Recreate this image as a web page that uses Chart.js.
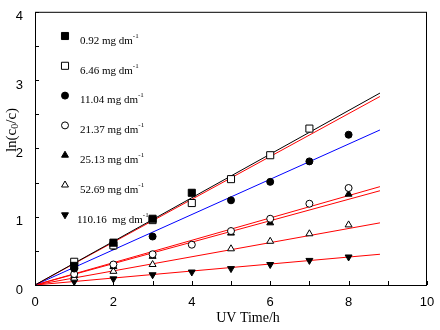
<!DOCTYPE html>
<html>
<head>
<meta charset="utf-8">
<script src="https://cdn.jsdelivr.net/npm/chart.js@4/dist/chart.umd.min.js"></script>
<style>
  html, body { margin: 0; padding: 0; background: #fff; }
</style>
</head>
<body>
<canvas id="myChart" width="440" height="330"></canvas>
<script>
// initial concentrations (mg dm-1) and ln(c0/c) vs irradiation time (h)
const concLabels = ['0.92', '6.46', '11.04', '21.37', '25.13', '52.69', '110.16'];

const timesA = [1, 2, 3, 4];
const valsA = [0.28, 0.62, 0.97, 1.35];
const timesB = [1, 2, 3, 4, 5, 6, 7];
const valsB = [0.34, 0.58, 0.95, 1.20, 1.55, 1.90, 2.29];
const timesC = [1, 2, 3, 5, 6, 7, 8];
const valsC = [0.24, 0.57, 0.71, 1.24, 1.51, 1.81, 2.20];
const timesD = [1, 2, 3, 4, 5, 6, 7, 8];
const valsD = [0.16, 0.30, 0.45, 0.59, 0.79, 0.97, 1.19, 1.42];
const timesE = [1, 2, 3, 5, 6, 8];
const valsE = [0.14, 0.27, 0.42, 0.76, 0.91, 1.33];
const timesF = [1, 2, 3, 5, 6, 7, 8];
const valsF = [0.10, 0.20, 0.30, 0.53, 0.64, 0.75, 0.88];
const timesG = [1, 2, 3, 4, 5, 6, 7, 8];
const valsG = [0.05, 0.09, 0.15, 0.19, 0.24, 0.30, 0.36, 0.41];

// fitted lines start at the origin and run to t = 8.8 h
const fitEndTime = 8.8;
const fitEndVals = [2.81, 2.76, 2.27, 1.44, 1.38, 0.91, 0.45];

const xTicks = [0, 2, 4, 6, 8, 10];
const yTicks = [0, 1, 2, 3, 4];

const allTimes = [timesA, timesB, timesC, timesD, timesE, timesF, timesG];
const allVals = [valsA, valsB, valsC, valsD, valsE, valsF, valsG];

// marker look per series: filled/open square, circle, triangle, down triangle
const markers = [
  { pointStyle: 'rect', radius: 5, rotation: 0, fill: '#000' },
  { pointStyle: 'rect', radius: 5, rotation: 0, fill: '#fff' },
  { pointStyle: 'circle', radius: 3.5, rotation: 0, fill: '#000' },
  { pointStyle: 'circle', radius: 3.5, rotation: 0, fill: '#fff' },
  { pointStyle: 'triangle', radius: 4, rotation: 0, fill: '#000' },
  { pointStyle: 'triangle', radius: 4, rotation: 0, fill: '#fff' },
  { pointStyle: 'triangle', radius: 4, rotation: 180, fill: '#000' }
];
const lineColors = ['#000000', '#ff0000', '#0000ff', '#ff0000', '#ff0000', '#ff0000', '#ff0000'];

const datasets = [];
allTimes.forEach((times, i) => {
  const m = markers[i];
  datasets.push({
    label: concLabels[i],
    data: times.map((t, j) => ({ x: t, y: allVals[i][j] })),
    pointStyle: m.pointStyle,
    pointRadius: m.radius,
    pointRotation: m.rotation,
    pointBackgroundColor: m.fill,
    pointBorderColor: '#000',
    pointBorderWidth: 1,
    showLine: false,
    order: 0
  });
});
fitEndVals.forEach((v, i) => {
  datasets.push({
    label: concLabels[i] + ' fit',
    data: [{ x: 0, y: 0 }, { x: fitEndTime, y: v }],
    showLine: true,
    borderColor: lineColors[i],
    borderWidth: 1,
    pointRadius: 0,
    fill: false,
    order: 1
  });
});

// frame, inward ticks, axis titles and the in-plot key
const framePlugin = {
  id: 'framePlugin',
  afterDraw(chart) {
    const { ctx, chartArea: a, scales } = chart;
    ctx.save();
    ctx.strokeStyle = '#000';
    ctx.lineWidth = 1;
    ctx.strokeRect(a.left + 0.5, a.top + 0.5, a.right - a.left - 1, a.bottom - a.top);

    ctx.beginPath();
    scales.x.ticks.forEach(t => {
      const px = Math.round(scales.x.getPixelForValue(t.value)) + 0.5;
      ctx.moveTo(px, a.bottom);
      ctx.lineTo(px, a.bottom - 4);
    });
    scales.y.ticks.forEach(t => {
      const py = Math.round(scales.y.getPixelForValue(t.value)) + 0.5;
      ctx.moveTo(a.left, py);
      ctx.lineTo(a.left + 4, py);
    });
    ctx.stroke();

    // axis titles
    ctx.fillStyle = '#000';
    ctx.font = '14px "Liberation Serif"';
    ctx.textAlign = 'center';
    ctx.textBaseline = 'middle';
    ctx.fillText('UV Time/h', 248, 318);

    ctx.save();
    ctx.translate(12, 130);
    ctx.rotate(-Math.PI / 2);
    ctx.textAlign = 'left';
    const p1 = 'ln(c', p3 = '/c)';
    ctx.font = '15px "Liberation Serif"';
    const w1 = ctx.measureText(p1).width;
    const w3 = ctx.measureText(p3).width;
    ctx.font = '10px "Liberation Serif"';
    const w2 = ctx.measureText('0').width;
    const x0 = -(w1 + w2 + w3) / 2;
    ctx.font = '15px "Liberation Serif"';
    ctx.fillText(p1, x0, 0);
    ctx.font = '10px "Liberation Serif"';
    ctx.fillText('0', x0 + w1, 3);
    ctx.font = '15px "Liberation Serif"';
    ctx.fillText(p3, x0 + w1 + w2, 0);
    ctx.restore();

    // key
    const keyX = 65, keyTop = 36, keyStep = 29.8, textX = 80;
    concLabels.forEach((lab, i) => {
      const y = keyTop + i * keyStep;
      const m = markers[i];
      ctx.fillStyle = m.fill;
      ctx.strokeStyle = '#000';
      ctx.lineWidth = 1;
      Chart.helpers.drawPoint(ctx, {
        pointStyle: m.pointStyle, radius: m.radius, rotation: m.rotation, borderWidth: 1
      }, keyX, y);

      ctx.fillStyle = '#000';
      ctx.textAlign = 'left';
      ctx.textBaseline = 'middle';
      ctx.font = '11px "Liberation Serif"';
      const ty = y + 5;
      let tx = textX;
      if (lab === '110.16') {
        ctx.fillText(lab, 77, ty);
        tx = 112;
        ctx.fillText('mg dm', tx, ty);
      } else {
        ctx.fillText(lab + ' mg dm', tx, ty);
        tx = tx + ctx.measureText(lab + ' ').width;
      }
      tx += ctx.measureText('mg dm').width;
      ctx.font = '7px "Liberation Serif"';
      ctx.fillText('-1', tx, ty - 5);
    });
    ctx.restore();
  }
};

new Chart(document.getElementById('myChart'), {
  type: 'scatter',
  data: { datasets },
  options: {
    responsive: false,
    animation: false,
    devicePixelRatio: 1,
    layout: { padding: { top: 8, right: 13, left: 0, bottom: 0 } },
    plugins: { legend: { display: false }, tooltip: { enabled: false } },
    scales: {
      x: {
        type: 'linear',
        min: 0,
        max: 10,
        grid: { display: false },
        border: { display: false },
        ticks: {
          stepSize: 1,
          autoSkip: false,
          maxRotation: 0,
          padding: 2,
          color: '#000',
          font: { family: 'Liberation Sans', size: 13 },
          callback: v => (xTicks.includes(v) ? String(v) : '')
        },
        afterFit: s => { s.height = 45; }
      },
      y: {
        type: 'linear',
        min: 0,
        max: 4,
        grid: { display: false },
        border: { display: false },
        ticks: {
          stepSize: 0.5,
          autoSkip: false,
          padding: 4,
          labelOffset: 5,
          color: '#000',
          font: { family: 'Liberation Sans', size: 13 },
          callback: v => (yTicks.includes(v) ? String(v) : '')
        },
        afterFit: s => { s.width = 35; }
      }
    }
  },
  plugins: [framePlugin]
});
</script>
</body>
</html>
